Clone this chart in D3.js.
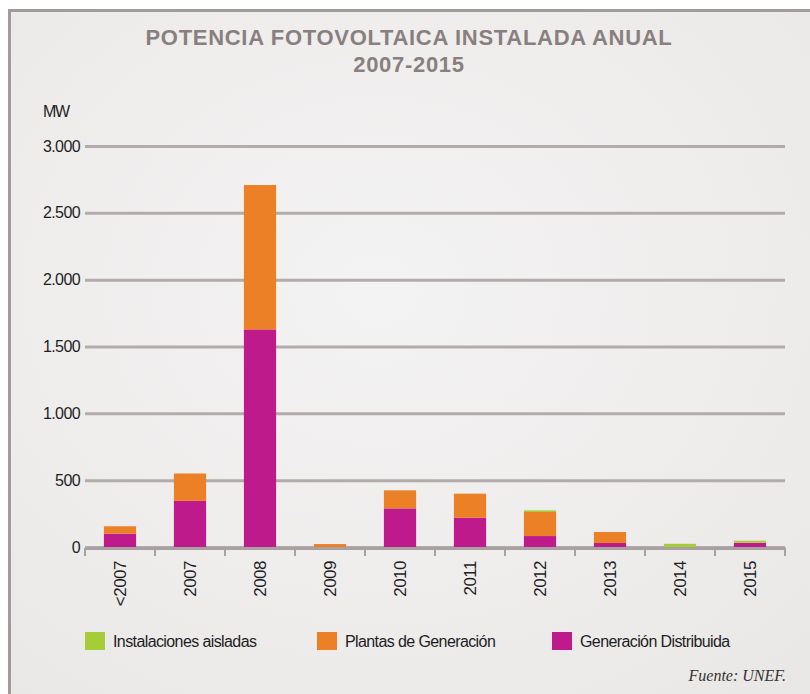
<!DOCTYPE html>
<html>
<head>
<meta charset="utf-8">
<script src="https://cdn.jsdelivr.net/npm/d3@7"></script>
<style>
  body { margin: 0; background: #fff; }
  svg { display: block; }
</style>
</head>
<body>
<div id="chart"></div>
<script>
// data (MW)
var categories = ['<2007', '2007', '2008', '2009', '2010', '2011', '2012', '2013', '2014', '2015'];
var distribuida = [100, 345, 1628, 0, 289, 219, 82, 30, 0, 30];
var plantas = [55, 205, 1080, 22, 135, 180, 180, 82, 0, 3];
var aisladas = [0, 0, 0, 0, 0, 0, 12, 0, 24, 14];
var seriesKeys = ['distribuida', 'plantas', 'aisladas'];
var seriesNames = ['Instalaciones aisladas', 'Plantas de Generación', 'Generación Distribuida'];
var yTicks = [0, 500, 1000, 1500, 2000, 2500, 3000];

var colors = { distribuida: '#be1a8b', plantas: '#ec8026', aisladas: '#a5cd3a' };

var svgWidth = 810;
var svgHeight = 694;
var margin = { top: 146, right: 25, bottom: 147, left: 85 };
var chartWidth = svgWidth - margin.left - margin.right;
var chartHeight = svgHeight - margin.top - margin.bottom;

var rows = categories.map(function (c, i) {
    return { cat: c, distribuida: distribuida[i], plantas: plantas[i], aisladas: aisladas[i] };
});

var svg = d3.select('#chart')
    .append('svg')
    .attr('width', svgWidth)
    .attr('height', svgHeight);

// background panel with soft gradient
var defs = svg.append('defs');
var grad = defs.append('radialGradient')
    .attr('id', 'bg')
    .attr('cx', '45%').attr('cy', '40%').attr('r', '75%');
grad.append('stop').attr('offset', '0%').attr('stop-color', '#f4f3f3');
grad.append('stop').attr('offset', '100%').attr('stop-color', '#eae8e7');

svg.append('rect')
    .attr('x', 9.5).attr('y', 10.5)
    .attr('width', 820).attr('height', 700)
    .attr('fill', 'url(#bg)')
    .attr('stroke', '#a39b9b')
    .attr('stroke-width', 3);

// title
var titleLines = ['POTENCIA FOTOVOLTAICA INSTALADA ANUAL', '2007-2015'];
svg.selectAll('.title')
    .data(titleLines)
    .enter()
    .append('text')
    .attr('x', 409)
    .attr('y', function (d, i) { return 45 + i * 27; })
    .attr('text-anchor', 'middle')
    .attr('font-family', 'Liberation Sans, Arial, sans-serif')
    .attr('font-weight', 'bold')
    .attr('font-size', 22)
    .attr('letter-spacing', 0.7)
    .attr('fill', '#8a7f7f')
    .text(function (d) { return d; });

var chartGroup = svg.append('g')
    .attr('transform', 'translate(' + margin.left + ',' + margin.top + ')');

var xScale = d3.scaleBand().domain(categories).range([0, chartWidth]).paddingInner(0.54).paddingOuter(0.27);
var yScale = d3.scaleLinear().domain([0, 3000]).range([chartHeight, 0]);

// gridlines + y labels
var leftAxis = d3.axisLeft(yScale)
    .tickValues(yTicks)
    .tickSize(-chartWidth)
    .tickPadding(5)
    .tickFormat(function (d) { return d3.format(',')(d).replace(/,/g, '.'); });

var yAxisG = chartGroup.append('g').call(leftAxis);
yAxisG.select('.domain').remove();
yAxisG.selectAll('.tick line')
    .attr('stroke', '#b3abab')
    .attr('stroke-width', 3);
yAxisG.selectAll('.tick text')
    .attr('font-family', 'Liberation Sans, Arial, sans-serif')
    .attr('font-size', 16)
    .attr('letter-spacing', -0.6)
    .attr('fill', '#1e1e1e');

svg.append('text')
    .attr('x', 43).attr('y', 117)
    .attr('font-family', 'Liberation Sans, Arial, sans-serif')
    .attr('font-size', 16)
    .attr('letter-spacing', -1.4)
    .attr('fill', '#1e1e1e')
    .text('MW');

// stacked bars
var stack = d3.stack().keys(seriesKeys);
var layers = stack(rows);

chartGroup.selectAll('.layer')
    .data(layers)
    .enter()
    .append('g')
    .attr('fill', function (d) { return colors[d.key]; })
    .selectAll('rect')
    .data(function (d) { return d; })
    .enter()
    .append('rect')
    .attr('x', function (d) { return xScale(d.data.cat); })
    .attr('width', xScale.bandwidth())
    .attr('y', function (d) { return yScale(d[1]); })
    .attr('height', function (d) { return yScale(d[0]) - yScale(d[1]); });

// x axis
var bottomAxis = d3.axisBottom(xScale).tickSize(0).tickPadding(12);
var xAxisG = chartGroup.append('g')
    .attr('transform', 'translate(0,' + (chartHeight + 1) + ')')
    .call(bottomAxis);
xAxisG.select('.domain')
    .attr('stroke', '#a9a1a1')
    .attr('stroke-width', 3);
xAxisG.selectAll('.tick text')
    .attr('font-family', 'Liberation Sans, Arial, sans-serif')
    .attr('font-size', 17)
    .attr('letter-spacing', -0.5)
    .attr('fill', '#1e1e1e')
    .attr('transform', 'rotate(-90)')
    .attr('text-anchor', 'end')
    .attr('x', -13)
    .attr('y', 0)
    .attr('dy', '0.35em');

// band boundary ticks
var step = xScale.step();
var bounds = d3.range(categories.length + 1);
xAxisG.selectAll('.bound')
    .data(bounds)
    .enter()
    .append('line')
    .attr('x1', function (i) { return i * step; })
    .attr('x2', function (i) { return i * step; })
    .attr('y1', 0)
    .attr('y2', 8)
    .attr('stroke', '#a9a1a1')
    .attr('stroke-width', 2);

// legend
var legendKeys = ['aisladas', 'plantas', 'distribuida'];
var legendX = [85, 317, 552];
var legend = svg.selectAll('.legend')
    .data(legendKeys)
    .enter()
    .append('g')
    .attr('transform', function (d, i) { return 'translate(' + legendX[i] + ',632)'; });
legend.append('rect')
    .attr('width', 20).attr('height', 18)
    .attr('fill', function (d) { return colors[d]; });
legend.append('text')
    .attr('x', 28).attr('y', 15)
    .attr('font-family', 'Liberation Sans, Arial, sans-serif')
    .attr('font-size', 16)
    .attr('letter-spacing', -0.6)
    .attr('fill', '#1e1e1e')
    .text(function (d, i) { return seriesNames[i]; });

svg.append('text')
    .attr('x', 786).attr('y', 681)
    .attr('text-anchor', 'end')
    .attr('font-family', 'Liberation Serif, Times New Roman, serif')
    .attr('font-style', 'italic')
    .attr('font-size', 16)
    .attr('fill', '#333')
    .text('Fuente: UNEF.');
</script>
</body>
</html>
